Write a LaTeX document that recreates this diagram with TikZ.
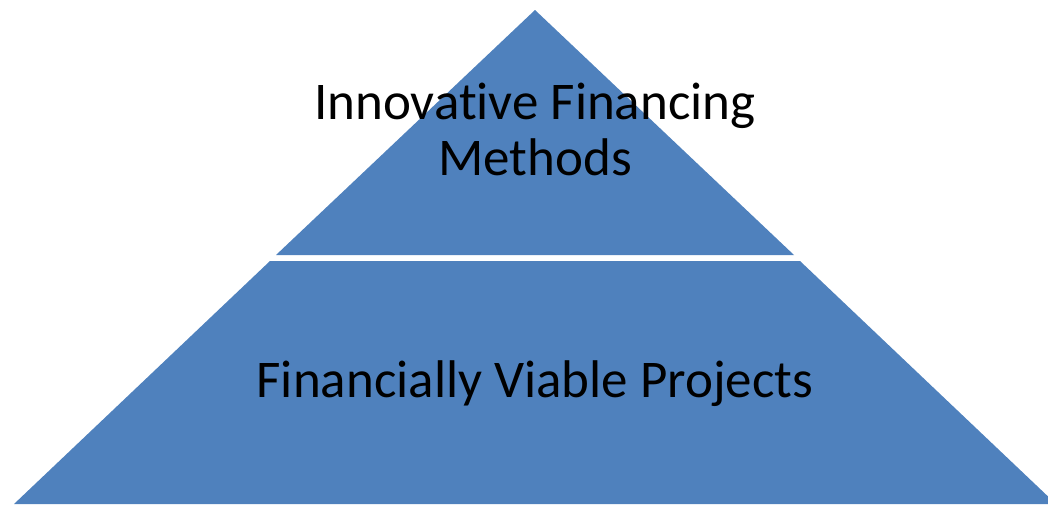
\documentclass[tikz,border=0pt]{standalone}
\usepackage{fontspec}
\setmainfont[Ligatures=NoCommon]{Carlito}
\usetikzlibrary{positioning}
\definecolor{pyrblue}{HTML}{4F81BD}

\begin{document}
\begin{tikzpicture}[
  x=1pt, y=1pt,
  layer/.style={fill=pyrblue, draw=none},
  tierlabel/.style={
    align=center, inner sep=0pt, text=black,
    font=\fontsize{53}{56}\selectfont
  }
]
\useasboundingbox (0,0) rectangle (1048,-504);
\clip (0,0) rectangle (1048,-504);

% top tier
\fill[layer] (535,-10) -- (794,-255) -- (276,-255) -- cycle;
% bottom tier
\fill[layer] (270,-261) -- (800,-261) -- (1056,-504) -- (14,-504) -- cycle;

\node[tierlabel, anchor=base] (methods) at (535,-175) {Innovative Financing\\Methods};
\node[tierlabel, anchor=base] (projects) at (535,-397) {Financially Viable Projects};

\end{tikzpicture}
\end{document}
